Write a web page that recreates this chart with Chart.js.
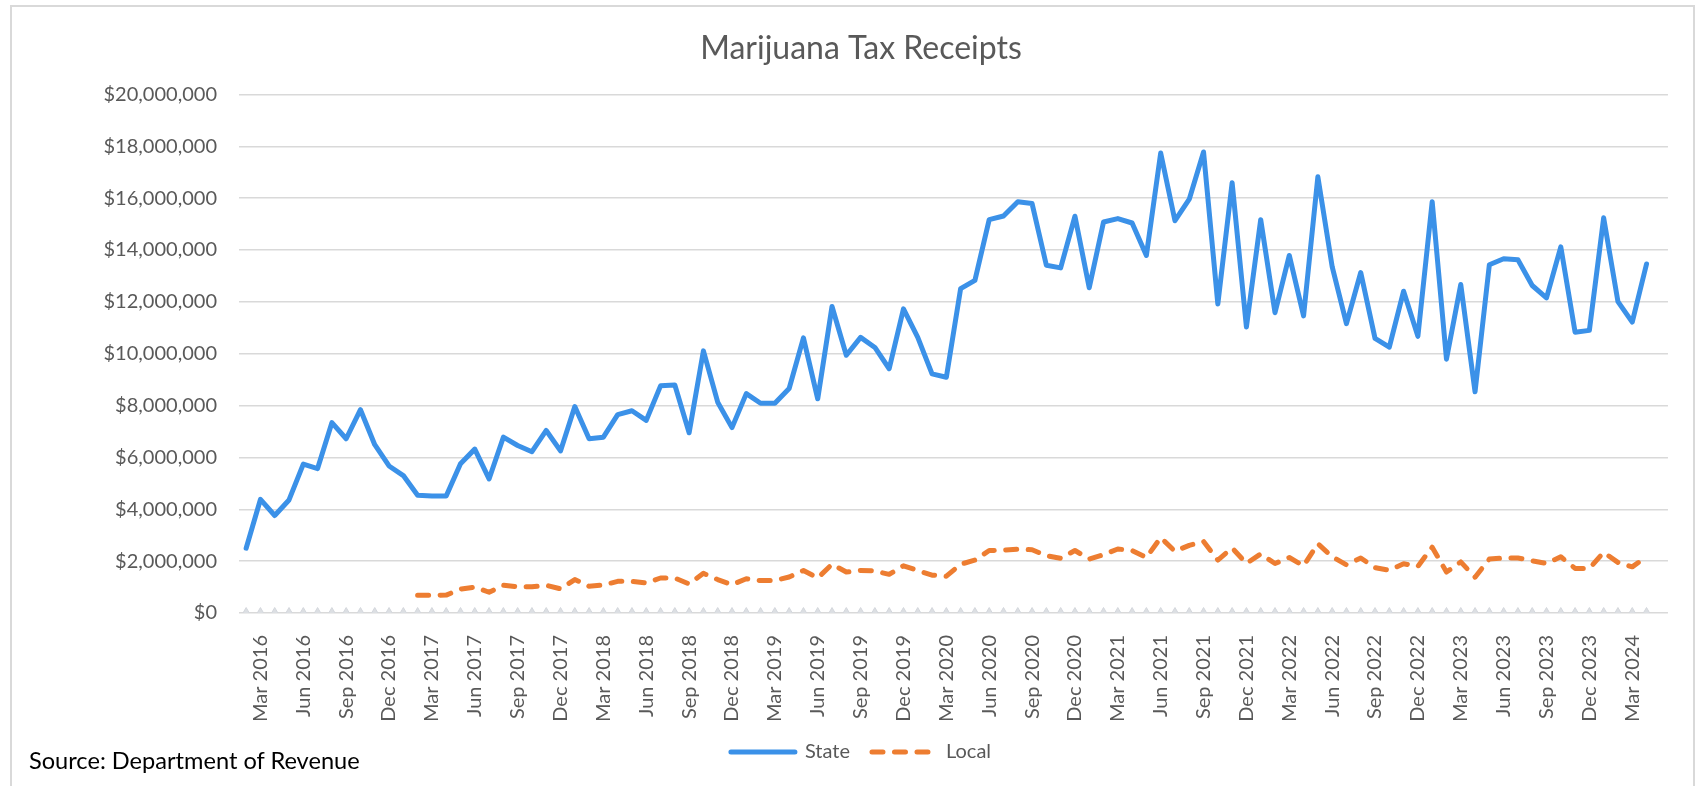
<!DOCTYPE html>
<html>
<head>
<meta charset="utf-8">
<script src="https://cdn.jsdelivr.net/npm/chart.js@4"></script>
<style>
  html, body { margin: 0; padding: 0; background: #fff; }
  #wrap { position: relative; width: 1707px; height: 786px; overflow: hidden; }
  #frame { position: absolute; left: 10px; top: 5px; width: 1685px; height: 800px; border: 2px solid #d9d9d9; box-sizing: border-box; }
  #chart { position: absolute; left: 0; top: 0; }
  #source { position: absolute; left: 29px; top: 746px; font: 23.6px Lato, sans-serif; line-height: 28px; color: #000; }
</style>
</head>
<body>
<div id="wrap">
  <div id="frame"></div>
  <canvas id="chart" width="1707" height="786"></canvas>
  <div id="source">Source: Department of Revenue</div>
</div>
<script>
// Month labels (last one has no data, Excel leaves an empty slot there)
const months = [
  'Feb 2016', 'Mar 2016', 'Apr 2016', 'May 2016', 'Jun 2016', 'Jul 2016', 'Aug 2016', 'Sep 2016', 'Oct 2016', 'Nov 2016', 'Dec 2016',
  'Jan 2017', 'Feb 2017', 'Mar 2017', 'Apr 2017', 'May 2017', 'Jun 2017', 'Jul 2017', 'Aug 2017', 'Sep 2017', 'Oct 2017', 'Nov 2017', 'Dec 2017',
  'Jan 2018', 'Feb 2018', 'Mar 2018', 'Apr 2018', 'May 2018', 'Jun 2018', 'Jul 2018', 'Aug 2018', 'Sep 2018', 'Oct 2018', 'Nov 2018', 'Dec 2018',
  'Jan 2019', 'Feb 2019', 'Mar 2019', 'Apr 2019', 'May 2019', 'Jun 2019', 'Jul 2019', 'Aug 2019', 'Sep 2019', 'Oct 2019', 'Nov 2019', 'Dec 2019',
  'Jan 2020', 'Feb 2020', 'Mar 2020', 'Apr 2020', 'May 2020', 'Jun 2020', 'Jul 2020', 'Aug 2020', 'Sep 2020', 'Oct 2020', 'Nov 2020', 'Dec 2020',
  'Jan 2021', 'Feb 2021', 'Mar 2021', 'Apr 2021', 'May 2021', 'Jun 2021', 'Jul 2021', 'Aug 2021', 'Sep 2021', 'Oct 2021', 'Nov 2021', 'Dec 2021',
  'Jan 2022', 'Feb 2022', 'Mar 2022', 'Apr 2022', 'May 2022', 'Jun 2022', 'Jul 2022', 'Aug 2022', 'Sep 2022', 'Oct 2022', 'Nov 2022', 'Dec 2022',
  'Jan 2023', 'Feb 2023', 'Mar 2023', 'Apr 2023', 'May 2023', 'Jun 2023', 'Jul 2023', 'Aug 2023', 'Sep 2023', 'Oct 2023', 'Nov 2023', 'Dec 2023',
  'Jan 2024', 'Feb 2024', 'Mar 2024', 'Apr 2024', 'May 2024'
];

// State receipts, dollars per month
const stateTax = [
  2500000, 4380000, 3760000, 4360000, 5740000, 5570000, 7340000, 6720000, 7840000, 6490000, 5670000,
  5300000, 4540000, 4510000, 4510000, 5760000, 6320000, 5170000, 6780000, 6460000, 6220000, 7040000, 6250000,
  7960000, 6720000, 6780000, 7650000, 7800000, 7430000, 8760000, 8790000, 6950000, 10110000, 8130000, 7150000,
  8460000, 8090000, 8090000, 8660000, 10610000, 8260000, 11820000, 9940000, 10630000, 10240000, 9420000, 11730000,
  10630000, 9220000, 9090000, 12510000, 12830000, 15170000, 15310000, 15860000, 15790000, 13410000, 13310000, 15300000,
  12540000, 15080000, 15210000, 15040000, 13790000, 17740000, 15130000, 15960000, 17780000, 11920000, 16590000, 11030000,
  15170000, 11580000, 13790000, 11460000, 16820000, 13360000, 11160000, 13130000, 10590000, 10250000, 12410000, 10670000,
  15860000, 9790000, 12670000, 8530000, 13430000, 13660000, 13620000, 12630000, 12150000, 14120000, 10830000, 10900000,
  15240000, 12010000, 11220000, 13460000
];

// Local receipts, dollars per month (reported from Feb 2017)
const localTax = [
  null, null, null, null, null, null, null, null, null, null, null,
  null, 680000, 680000, 690000, 920000, 1000000, 800000, 1070000, 1010000, 1010000, 1070000, 930000,
  1290000, 1030000, 1080000, 1220000, 1220000, 1160000, 1350000, 1350000, 1120000, 1530000, 1290000, 1090000,
  1320000, 1250000, 1250000, 1390000, 1640000, 1350000, 1880000, 1580000, 1640000, 1620000, 1490000, 1820000,
  1640000, 1460000, 1420000, 1880000, 2040000, 2410000, 2420000, 2460000, 2440000, 2210000, 2110000, 2410000,
  2080000, 2250000, 2470000, 2410000, 2140000, 2910000, 2380000, 2610000, 2760000, 2040000, 2510000, 1910000,
  2280000, 1910000, 2140000, 1820000, 2670000, 2170000, 1860000, 2120000, 1750000, 1650000, 1900000, 1800000,
  2540000, 1580000, 1970000, 1380000, 2080000, 2120000, 2120000, 2010000, 1910000, 2170000, 1720000, 1720000,
  2340000, 1950000, 1780000, 2170000
];

// Third series in the workbook sits at zero all along (grey triangle markers)
const otherTax = [
  0, 0, 0, 0, 0, 0, 0, 0, 0, 0, 0,
  0, 0, 0, 0, 0, 0, 0, 0, 0, 0, 0, 0,
  0, 0, 0, 0, 0, 0, 0, 0, 0, 0, 0, 0,
  0, 0, 0, 0, 0, 0, 0, 0, 0, 0, 0, 0,
  0, 0, 0, 0, 0, 0, 0, 0, 0, 0, 0, 0,
  0, 0, 0, 0, 0, 0, 0, 0, 0, 0, 0, 0,
  0, 0, 0, 0, 0, 0, 0, 0, 0, 0, 0, 0,
  0, 0, 0, 0, 0, 0, 0, 0, 0, 0, 0, 0,
  0, 0, 0, 0
];

Chart.defaults.font.family = 'Lato, sans-serif';
Chart.defaults.color = '#595959';

let ctx = document.getElementById('chart').getContext('2d');

let data = {
  labels: months,
  datasets: [{
    label: 'State',
    data: stateTax,
    borderColor: '#3b91e8',
    backgroundColor: '#3b91e8',
    borderWidth: 5,
    borderCapStyle: 'round',
    borderJoinStyle: 'round',
    pointRadius: 0,
    tension: 0
  },
  {
    label: 'Local',
    data: localTax,
    borderColor: '#ed7d31',
    backgroundColor: '#ed7d31',
    borderWidth: 5,
    borderDash: [11, 11.5],
    borderCapStyle: 'round',
    borderJoinStyle: 'round',
    pointRadius: 0,
    tension: 0
  },
  {
    label: 'Other',
    data: otherTax,
    showLine: false,
    pointStyle: 'triangle',
    pointRadius: 5.5,
    pointBorderWidth: 1,
    pointBorderColor: '#d4d7dc',
    pointBackgroundColor: '#dcdfe3',
    borderColor: '#d4d7dc'
  }]
};

// legend swatches should copy the line width and dash of each series
function legendLabels(chart) {
  let items = Chart.defaults.plugins.legend.labels.generateLabels(chart);
  items.forEach(item => {
    let ds = chart.data.datasets[item.datasetIndex];
    item.lineWidth = ds.borderWidth;
    item.lineDash = ds.borderDash || [];
    item.lineCap = 'round';
    item.strokeStyle = ds.borderColor;
  });
  return items;
}

const config = {
  type: 'line',
  data: data,
  options: {
    responsive: false,
    animation: false,
    layout: { padding: { left: 51, right: 36, top: 10, bottom: 14 } },
    plugins: {
      title: {
        display: true,
        text: 'Marijuana Tax Receipts',
        font: { size: 32, weight: 'normal' },
        color: '#595959',
        padding: { top: 19, bottom: 27 }
      },
      legend: {
        position: 'bottom',
        labels: {
          usePointStyle: true,
          pointStyle: 'line',
          pointStyleWidth: 64,
          font: { size: 20 },
          color: '#595959',
          padding: 22,
          generateLabels: legendLabels,
          filter: (item) => item.text !== 'Other'
        }
      },
      tooltip: { enabled: false }
    },
    scales: {
      x: {
        offset: true,
        grid: { display: false, drawTicks: false },
        border: { display: false },
        ticks: {
          autoSkip: false,
          minRotation: 90,
          maxRotation: 90,
          padding: 22,
          font: { size: 20 },
          callback: function (value, index) {
            // label every third month, starting with Mar 2016
            return (index % 3 === 1 && index < 98) ? months[index] : '';
          }
        },
        afterFit: (scale) => { scale.height = 107; }
      },
      y: {
        min: 0,
        max: 20000000,
        grid: { color: '#d9d9d9', lineWidth: 1.5, drawTicks: false },
        border: { display: false },
        ticks: {
          stepSize: 2000000,
          padding: 22,
          font: { size: 20 },
          callback: (v) => '$' + v.toLocaleString('en-US')
        },
        afterFit: (scale) => { scale.width = 188; }
      }
    }
  }
};

const theChart = new Chart(ctx, config);
</script>
</body>
</html>
